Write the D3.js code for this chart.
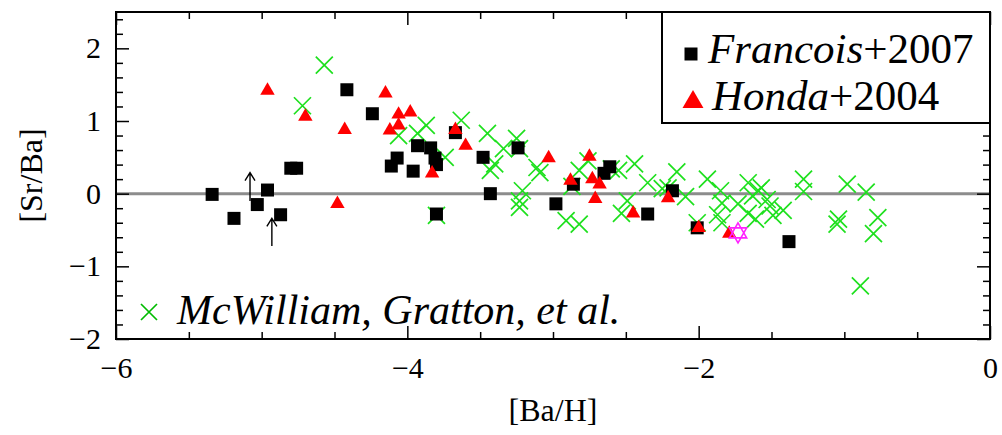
<!DOCTYPE html>
<html>
<head>
<meta charset="utf-8">
<script src="https://cdn.jsdelivr.net/npm/d3@7"></script>
<style>
  html, body { margin: 0; padding: 0; background: #fff; }
  svg { display: block; }
  text { font-family: "Liberation Serif", "Times New Roman", serif; fill: #000; }
</style>
</head>
<body>
<svg id="chart" width="1002" height="435"></svg>
<script>
// ---------- data ([Ba/H], [Sr/Ba]) ----------
const francois2007 = [
  [-5.34, -0.01], [-5.19, -0.34], [-5.03, -0.15], [-4.96, 0.05], [-4.87, -0.29],
  [-4.80, 0.35], [-4.76, 0.35], [-4.415, 1.43], [-4.24, 1.10], [-4.07, 0.49],
  [-4.11, 0.38], [-3.96, 0.31], [-3.93, 0.66], [-3.84, 0.63], [-3.81, 0.49],
  [-3.80, 0.40], [-3.67, 0.84], [-3.80, -0.28], [-3.48, 0.50], [-3.43, 0.00],
  [-3.24, 0.63], [-2.98, -0.14], [-2.86, 0.13], [-2.61, 0.37], [-2.65, 0.28],
  [-2.35, -0.28], [-2.18, 0.04], [-2.01, -0.47], [-1.38, -0.66]
];
const honda2004 = [
  [-4.96, 1.42], [-4.70, 1.06], [-4.43, 0.88], [-4.48, -0.14], [-4.15, 1.38],
  [-4.06, 1.09], [-3.98, 1.12], [-4.12, 0.87], [-4.06, 0.94], [-3.83, 0.28],
  [-3.67, 0.88], [-3.60, 0.66], [-3.03, 0.49], [-2.88, 0.18], [-2.75, 0.51],
  [-2.73, 0.20], [-2.68, 0.13], [-2.71, -0.07], [-2.45, -0.27], [-2.21, -0.06],
  [-2.00, -0.47], [-1.79, -0.55]
];
const mcwilliamGratton = [
  [-4.57, 1.77], [-4.72, 1.21], [-4.06, 0.80], [-3.93, 0.83], [-3.87, 0.94],
  [-3.74, 0.50], [-3.63, 1.01], [-3.45, 0.83], [-3.34, 0.62], [-3.43, 0.32],
  [-3.40, 0.41], [-3.25, 0.76], [-3.23, 0.62], [-3.21, 0.04], [-3.23, -0.10],
  [-3.23, -0.19], [-3.80, -0.30], [-3.11, 0.36], [-3.09, 0.29], [-2.91, -0.37],
  [-2.82, -0.42], [-2.87, 0.10], [-2.82, 0.32], [-2.76, 0.45], [-2.60, 0.34],
  [-2.55, 0.32], [-2.44, 0.41], [-2.35, 0.15], [-2.49, -0.10], [-2.53, -0.27],
  [-2.25, 0.07], [-2.15, 0.30], [-2.21, 0.08], [-2.09, -0.04], [-2.01, -0.40],
  [-1.94, 0.20], [-1.85, 0.04], [-1.84, -0.13], [-1.87, -0.29], [-1.84, -0.40],
  [-1.73, -0.14], [-1.66, 0.15], [-1.63, -0.03], [-1.59, 0.04], [-1.57, 0.08],
  [-1.66, -0.27], [-1.61, -0.35], [-1.53, -0.08], [-1.51, -0.17], [-1.49, -0.30],
  [-1.42, -0.23], [-1.28, 0.20], [-1.28, 0.03], [-0.98, 0.13], [-0.85, 0.02],
  [-1.04, -0.35], [-1.05, -0.42], [-0.77, -0.33], [-0.80, -0.55], [-0.89, -1.27]
];
const starPoint = [[-1.73, -0.54]];
// lower-limit arrows: [x, from y, to y]
const limitArrows = [[-5.08, -0.10, 0.29], [-4.93, -0.72, -0.34]];

const xDomain = [-6, 0];
const yDomain = [-2, 2.5];
const xMajorTicks = [-6, -4, -2, 0];
const yMajorTicks = [-2, -1, 0, 1, 2];
const legendLabels = [["Francois", "+2007"], ["Honda", "+2004"]];
const mcLabel = "McWilliam, Gratton, et al.";
const xTitle = "[Ba/H]";
const yTitle = "[Sr/Ba]";

// ---------- layout ----------
const L = 116, R = 990, T = 12, B = 339;
const svg = d3.select("#chart");
const x = d3.scaleLinear().domain(xDomain).range([L, R]);
const y = d3.scaleLinear().domain(yDomain).range([B, T]);

const xMinor = d3.range(-6, 0.001, 0.5).filter(v => !xMajorTicks.some(m => Math.abs(m - v) < 1e-6));
const yMinor = d3.range(-2, 2.5001, 0.2).map(v => +v.toFixed(2)).filter(v => !yMajorTicks.some(m => Math.abs(m - v) < 1e-6));

// zero line
svg.append("line")
  .attr("x1", x(-6)).attr("x2", x(0))
  .attr("y1", y(0)).attr("y2", y(0))
  .attr("stroke", "#8c8c8c").attr("stroke-width", 3);

function styleAxis(g) {
  g.select(".domain").remove();
  g.selectAll(".tick line").attr("stroke", "#000").attr("stroke-width", 1.5);
  g.selectAll("text").style("font-family", '"Liberation Serif", serif').style("font-size", "30px").attr("fill", "#000");
}

// bottom axis
svg.append("g").attr("transform", `translate(0,${B})`)
  .call(d3.axisBottom(x).tickValues(xMinor).tickSize(-7).tickFormat("")).call(styleAxis);
svg.append("g").attr("transform", `translate(0,${B})`)
  .call(d3.axisBottom(x).tickValues(xMajorTicks).tickSize(-13).tickPadding(18).tickFormat(d3.format("d"))).call(styleAxis);
// top axis
svg.append("g").attr("transform", `translate(0,${T})`)
  .call(d3.axisTop(x).tickValues(xMinor).tickSize(-7).tickFormat("")).call(styleAxis);
svg.append("g").attr("transform", `translate(0,${T})`)
  .call(d3.axisTop(x).tickValues(xMajorTicks).tickSize(-13).tickFormat("")).call(styleAxis);
// left axis
svg.append("g").attr("transform", `translate(${L},0)`)
  .call(d3.axisLeft(y).tickValues(yMinor).tickSize(-7).tickFormat("")).call(styleAxis);
svg.append("g").attr("transform", `translate(${L},0)`)
  .call(d3.axisLeft(y).tickValues(yMajorTicks).tickSize(-13).tickPadding(15).tickFormat(d3.format("d"))).call(styleAxis);
// right axis
svg.append("g").attr("transform", `translate(${R},0)`)
  .call(d3.axisRight(y).tickValues(yMinor).tickSize(-7).tickFormat("")).call(styleAxis);
svg.append("g").attr("transform", `translate(${R},0)`)
  .call(d3.axisRight(y).tickValues(yMajorTicks).tickSize(-13).tickFormat("")).call(styleAxis);

// frame
svg.append("rect").attr("x", L).attr("y", T).attr("width", R - L).attr("height", B - T)
  .attr("fill", "none").attr("stroke", "#000").attr("stroke-width", 2);

// axis titles
svg.append("text").attr("x", (L + R) / 2).attr("y", 421).attr("text-anchor", "middle")
  .style("font-size", "32px").text(xTitle);
svg.append("text").attr("transform", `translate(42,${(T + B) / 2}) rotate(-90)`).attr("text-anchor", "middle")
  .style("font-size", "32px").text(yTitle);

// green crosses
const crossPath = (cx, cy, s) => `M${cx - s},${cy - s}L${cx + s},${cy + s}M${cx - s},${cy + s}L${cx + s},${cy - s}`;
svg.append("g").selectAll("path").data(mcwilliamGratton).join("path")
  .attr("d", d => crossPath(x(d[0]), y(d[1]), 8.5))
  .attr("stroke", "#1ee01e").attr("stroke-width", 1.7).attr("fill", "none");

// squares
svg.append("g").selectAll("path").data(francois2007).join("path")
  .attr("transform", d => `translate(${x(d[0])},${y(d[1])})`)
  .attr("d", d3.symbol(d3.symbolSquare, 169))
  .attr("fill", "#000");

// triangles
svg.append("g").selectAll("path").data(honda2004).join("path")
  .attr("transform", d => `translate(${x(d[0])},${y(d[1])})`)
  .attr("d", d3.symbol(d3.symbolTriangle, 90))
  .attr("fill", "#ff0000");

// magenta star
const starPath = (cx, cy, r) => {
  const tri = a0 => d3.range(3).map(i => {
    const a = a0 + i * 2 * Math.PI / 3;
    return [cx + r * Math.cos(a), cy + r * Math.sin(a)];
  });
  const t1 = tri(-Math.PI / 2), t2 = tri(Math.PI / 2);
  return "M" + t1.join("L") + "Z" + "M" + t2.join("L") + "Z";
};
svg.append("g").selectAll("path").data(starPoint).join("path")
  .attr("d", d => starPath(x(d[0]), y(d[1]), 10))
  .attr("stroke", "#ff22ff").attr("stroke-width", 1.6).attr("fill", "none");

// limit arrows
const arrowG = svg.append("g").attr("stroke", "#000").attr("stroke-width", 1.4).attr("fill", "none");
limitArrows.forEach(a => {
  const ax = x(a[0]), y0 = y(a[1]), y1 = y(a[2]);
  arrowG.append("path").attr("d", `M${ax},${y0}L${ax},${y1}M${ax - 5},${y1 + 8}L${ax},${y1}L${ax + 5},${y1 + 8}`);
});

// legend box
svg.append("rect").attr("x", 662).attr("y", T).attr("width", R - 662).attr("height", 111)
  .attr("fill", "#fff").attr("stroke", "#000").attr("stroke-width", 2);
svg.append("path").attr("transform", "translate(691,54)").attr("d", d3.symbol(d3.symbolSquare, 169)).attr("fill", "#000");
svg.append("path").attr("transform", "translate(693,102)").attr("d", d3.symbol(d3.symbolTriangle, 190)).attr("fill", "#ff0000");
const legY = [63, 110];
legendLabels.forEach((lab, i) => {
  const t = svg.append("text").attr("x", i === 0 ? 708 : 712).attr("y", legY[i]).style("font-size", "43px");
  t.append("tspan").style("font-style", "italic").text(lab[0]);
  t.append("tspan").text(lab[1]);
});

// McWilliam label
svg.append("path").attr("d", crossPath(149, 312, 8)).attr("stroke", "#00bb00").attr("stroke-width", 1.7).attr("fill", "none");
svg.append("text").attr("x", 177).attr("y", 324).style("font-size", "42px").style("font-style", "italic").text(mcLabel);
</script>
</body>
</html>
